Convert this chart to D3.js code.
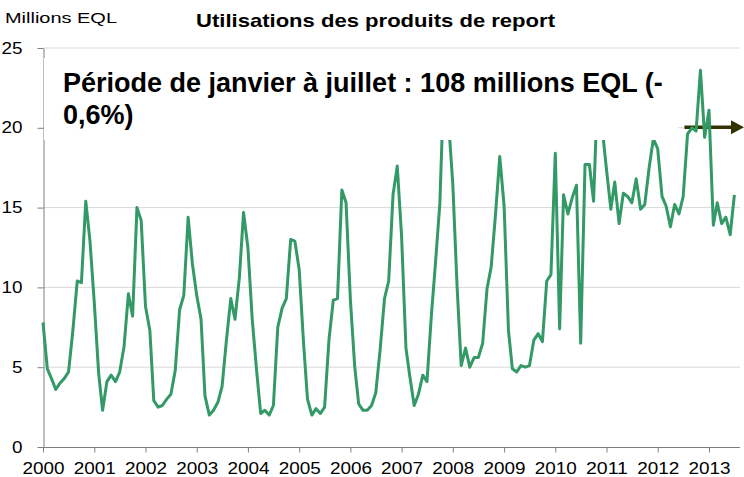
<!DOCTYPE html>
<html>
<head>
<meta charset="utf-8">
<script src="https://cdn.jsdelivr.net/npm/d3@7"></script>
<style>
  body { margin: 0; background: #fff; }
  svg { display: block; font-family: "Liberation Sans", Arial, sans-serif; }
</style>
</head>
<body>
<div id="chart"></div>
<script>
// monthly values, Jan 2000 -> Jul 2013 (millions EQL)
var values = [
  7.8, 4.9, 4.3, 3.6, 4.0, 4.3, 4.7, 7.3, 10.4, 10.3, 15.4, 12.9,   // 2000
  9.0, 4.6, 2.3, 4.1, 4.5, 4.1, 4.7, 6.3, 9.6, 8.2, 15.0, 14.2,     // 2001
  8.8, 7.3, 2.9, 2.5, 2.6, 3.0, 3.3, 4.8, 8.6, 9.5, 14.4, 11.5,     // 2002
  9.5, 8.0, 3.2, 2.0, 2.3, 2.8, 3.8, 6.7, 9.3, 8.0, 10.6, 14.7,     // 2003
  12.5, 8.0, 5.0, 2.1, 2.3, 2.0, 2.6, 7.5, 8.7, 9.3, 13.0, 12.9,    // 2004
  11.1, 6.5, 3.0, 2.0, 2.4, 2.1, 2.5, 6.7, 9.2, 9.3, 16.1, 15.3,    // 2005
  9.2, 5.0, 2.7, 2.3, 2.3, 2.6, 3.4, 6.1, 9.3, 10.4, 15.8, 17.6,    // 2006
  13.2, 6.2, 4.4, 2.6, 3.3, 4.5, 4.1, 8.2, 11.7, 15.3, 23.5, 20.5,  // 2007
  16.5, 10.0, 5.1, 6.2, 5.0, 5.6, 5.6, 6.5, 9.9, 11.3, 14.6, 18.2,  // 2008
  15.1, 7.3, 4.9, 4.7, 5.1, 5.0, 5.1, 6.7, 7.1, 6.6, 10.4, 10.8,    // 2009
  18.4, 7.4, 15.8, 14.6, 15.6, 16.4, 6.5, 17.7, 17.7, 15.4, 23.0, 20.0, // 2010
  17.4, 14.9, 16.6, 14.0, 15.9, 15.7, 15.3, 16.8, 14.9, 15.2, 17.5, 19.3, // 2011
  18.7, 15.7, 15.1, 13.8, 15.2, 14.6, 15.7, 19.6, 20.0, 19.8, 23.6, 19.4, // 2012
  21.1, 13.9, 15.3, 14.0, 14.4, 13.3, 15.8                           // 2013
];
var yearLabels = d3.range(2000, 2014);
var yTicks = [0, 5, 10, 15, 20, 25];
var unitLabel = "Millions EQL";
var title = "Utilisations des produits de report";
var noteLines = ["Période de janvier à juillet : 108 millions EQL (-", "0,6%)"];
var arrowLevel = 20; // level marked by the arrow

var svgWidth = 744, svgHeight = 477;
var plotRight = 740;

var svg = d3.select("#chart").append("svg")
    .attr("width", svgWidth)
    .attr("height", svgHeight);

var data = values.map(function (v, i) {
    return { date: new Date(2000, i, 1), value: v };
});

var x = d3.scaleTime()
    .domain([new Date(2000, 0, 1), new Date(2013, 0, 1)])
    .range([43, 709]);

var y = d3.scaleLinear()
    .domain([0, 25])
    .range([447, 48]);

// gridlines
svg.append("g")
    .selectAll("line")
    .data(yTicks.filter(function (d) { return d > 0; }))
    .enter()
    .append("line")
    .attr("x1", 43).attr("x2", plotRight)
    .attr("y1", d => y(d)).attr("y2", d => y(d))
    .attr("stroke", "#d9d9d9")
    .attr("stroke-width", 1);

// y axis
var yAxis = svg.append("g")
    .attr("transform", "translate(43.5,0)")
    .call(d3.axisLeft(y).tickValues(yTicks).tickSize(6).tickPadding(15).tickSizeOuter(0));

// x axis
var xAxis = svg.append("g")
    .attr("transform", "translate(0,447.5)")
    .call(d3.axisBottom(x)
        .tickValues(yearLabels.map(function (yr) { return new Date(yr, 0, 1); }))
        .tickFormat(d3.timeFormat("%Y"))
        .tickSize(5).tickPadding(10).tickSizeOuter(0));
xAxis.select(".domain").attr("d", "M43,0H" + plotRight);

[yAxis, xAxis].forEach(function (g) {
    g.select(".domain").attr("stroke", "#7f7f7f");
    g.selectAll(".tick line").attr("stroke", "#7f7f7f");
    g.selectAll(".tick text")
        .attr("fill", "#000")
        .style("font-size", "16px")
        .style("font-family", "'Liberation Sans', Arial, sans-serif")
        .attr("lengthAdjust", "spacingAndGlyphs")
        .attr("textLength", function () { return this.textContent.length * 10.5; });
});

// arrow marking the level
var arrowY = y(arrowLevel) - 0.5;
var arrowX0 = x(new Date(2012, 6, 10));
svg.append("line")
    .attr("x1", arrowX0).attr("x2", 733)
    .attr("y1", arrowY).attr("y2", arrowY)
    .attr("stroke", "#333300")
    .attr("stroke-width", 3.5);
svg.append("path")
    .attr("d", `M731,${arrowY - 7}L744,${arrowY}L731,${arrowY + 7}Z`)
    .attr("fill", "#333300");

// series line
var line = d3.line()
    .x(d => x(d.date))
    .y(d => y(d.value));

svg.append("path")
    .datum(data)
    .attr("d", line)
    .attr("fill", "none")
    .attr("stroke", "#339966")
    .attr("stroke-width", 3)
    .attr("stroke-linejoin", "round");

// annotation box (white, hides the top of the line)
svg.append("rect")
    .attr("x", 44).attr("y", 58)
    .attr("width", 634).attr("height", 82)
    .attr("fill", "#fff");

var note = svg.append("text")
    .attr("x", 63)
    .attr("y", 92)
    .attr("font-size", "27px")
    .attr("font-weight", "bold")
    .attr("fill", "#000");
note.selectAll("tspan")
    .data(noteLines)
    .enter()
    .append("tspan")
    .attr("x", 63)
    .attr("dy", (d, i) => i === 0 ? 0 : 32)
    .text(d => d);

// unit label and title
svg.append("text")
    .attr("x", 5).attr("y", 23)
    .attr("font-size", "15px")
    .attr("fill", "#000")
    .attr("lengthAdjust", "spacingAndGlyphs")
    .attr("textLength", 112)
    .text(unitLabel);

svg.append("text")
    .attr("x", 196).attr("y", 27)
    .attr("font-size", "19px")
    .attr("font-weight", "bold")
    .attr("fill", "#000")
    .attr("lengthAdjust", "spacingAndGlyphs")
    .attr("textLength", 359)
    .text(title);
</script>
</body>
</html>
